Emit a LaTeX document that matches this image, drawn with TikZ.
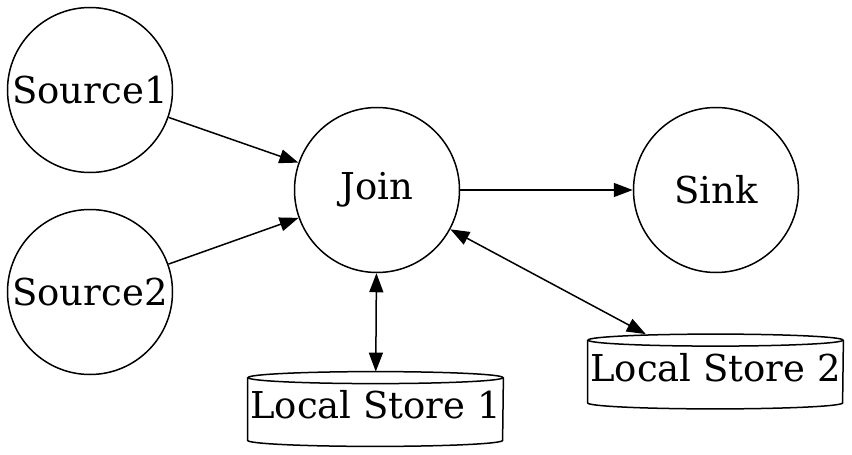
\documentclass[tikz,border=0pt]{standalone}
\usepackage{fontspec}
\setmainfont{DejaVu Serif}
\usetikzlibrary{arrows.meta,positioning}

\begin{document}
\begin{tikzpicture}[x=0.5pt,y=-0.5pt,
  >={Triangle[length=9.5pt,width=7pt]},
  font=\fontsize{18.5}{22}\selectfont,
  op/.style={draw, circle, line width=0.75pt, minimum size=82.5pt, inner sep=0pt},
  store/.style={minimum width=127.5pt, minimum height=37pt, inner sep=0pt, text depth=4.5pt},
  link/.style={->, line width=0.75pt},
  both/.style={<->, line width=0.75pt}]
\useasboundingbox (0,0) rectangle (852,455);
% Operators
\node[op] (src1) at (90,90) {Source1};
\node[op] (src2) at (90,292) {Source2};
\node[op] (join) at (377,190) {Join};
\node[op] (sink) at (716,190) {Sink};
% Local state stores (cylinders)
\node[store] (ls1) at (375.5,409) {Local Store 1};
\node[store] (ls2) at (715.5,371.5) {Local Store 2};
\foreach \s in {ls1,ls2} {
  \draw[line width=0.75pt] ([yshift=-3pt]\s.north west) -- ([yshift=3pt]\s.south west)
    arc[start angle=180, end angle=360, x radius=63.75pt, y radius=3pt]
    -- ([yshift=-3pt]\s.north east);
  \draw[line width=0.75pt] ([yshift=-3pt]\s.north) ellipse [x radius=63.75pt, y radius=3pt];
}
% Streams
\draw[link] (src1) -- (join);
\draw[link] (src2) -- (join);
\draw[link] (join) -- (sink);
\draw[both] (join) -- (ls1);
\draw[both] (join) -- (ls2);
\end{tikzpicture}
\end{document}
